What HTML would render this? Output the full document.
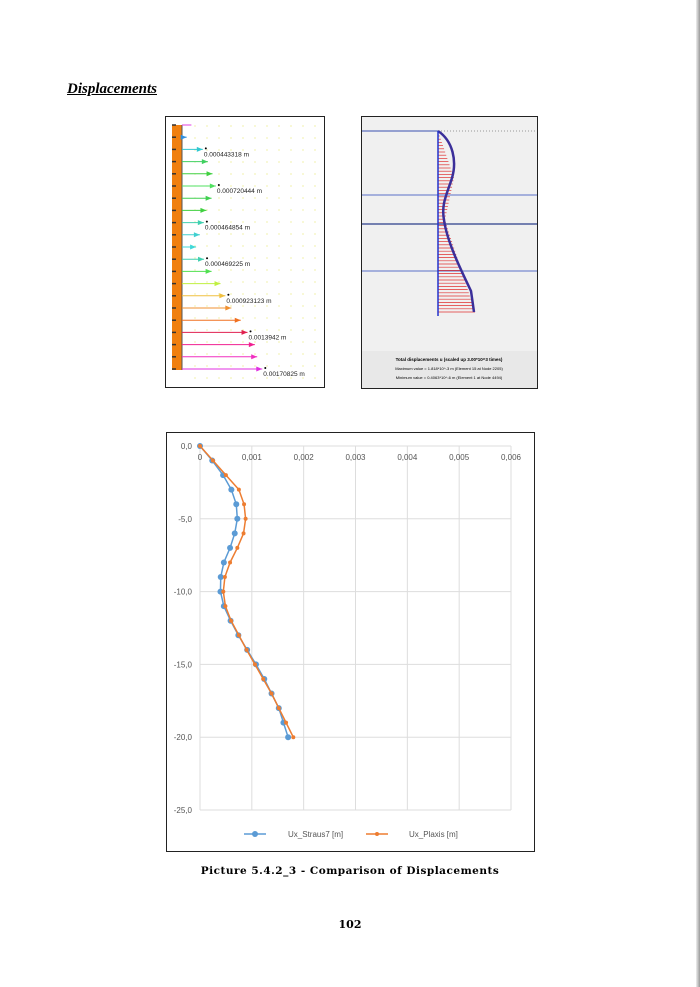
<!DOCTYPE html>
<html><head><meta charset="utf-8">
<style>
body{margin:0;width:700px;height:987px;background:#fff;position:relative;overflow:hidden;font-family:"Liberation Serif",serif}
.abs{position:absolute}
</style></head>
<body>
<div class="abs" style="left:696px;top:0;width:4px;height:987px;background:linear-gradient(90deg,#eee,#999)"></div>
<div class="abs" style="left:67px;top:81px;font-size:15px;font-weight:bold;font-style:italic;text-decoration:underline">Displacements</div>

<svg class="abs" style="left:165px;top:116px" width="160" height="272" id="img1"></svg>

<svg class="abs" style="left:361px;top:116px" width="177" height="273">
<rect x="0.5" y="0.5" width="176" height="272" fill="#f0f0f0" stroke="#222"/>
<rect x="1" y="235" width="175" height="37" fill="#e8e8e8"/>
<line x1="1" y1="15" x2="77" y2="15" stroke="#3a4fb0"/>
<line x1="77" y1="15" x2="176" y2="15" stroke="#999" stroke-dasharray="1,2"/>
<line x1="1" y1="79" x2="176" y2="79" stroke="#5a70c8"/>
<line x1="1" y1="108" x2="176" y2="108" stroke="#4a5a9a" stroke-width="1.5"/>
<line x1="1" y1="155" x2="176" y2="155" stroke="#5a70c8"/>
<g id="plaxred"></g>
<path d="M77 15 C92 25,96 45,91 62 C86 78,80 88,83 104 C86 125,98 150,110 175 L113 196" fill="none" stroke="#3b2f9a" stroke-width="2.5"/>
<line x1="77" y1="15" x2="77" y2="200" stroke="#2233cc" stroke-width="1.5"/>
<text x="88" y="245" font-family="Liberation Sans,sans-serif" font-size="4.5" font-weight="bold" text-anchor="middle">Total displacements u (scaled up 3.00*10^3 times)</text>
<text x="88" y="254" font-family="Liberation Sans,sans-serif" font-size="4" text-anchor="middle">Maximum value = 1.818*10^-3 m (Element 15 at Node 2205)</text>
<text x="88" y="263" font-family="Liberation Sans,sans-serif" font-size="4" text-anchor="middle">Minimum value = 0.4063*10^-6 m (Element 1 at Node 4494)</text>
</svg>

<svg class="abs" style="left:166px;top:432px" width="369" height="420" id="chart"></svg>

<div class="abs" style="left:0;width:700px;top:865px;text-align:center;font-family:'DejaVu Serif',serif;font-size:10.5px;font-weight:bold;letter-spacing:0.5px">Picture 5.4.2_3 - Comparison of Displacements</div>
<div class="abs" style="left:0;width:700px;top:918px;text-align:center;font-family:'DejaVu Serif',serif;font-size:11px;font-weight:bold">102</div>

<script>
const NS="http://www.w3.org/2000/svg";
function mk(p,t,a){const e=document.createElementNS(NS,t);for(const k in a)e.setAttribute(k,a[k]);p.appendChild(e);return e;}

// image 1 (straus7 arrows)
const arrowLens=[0.0002,0.0001,0.000443,0.00055,0.00065,0.00072,0.00063,0.00052,0.000465,0.00038,0.0003,0.000469,0.00063,0.00082,0.000923,0.00105,0.00125,0.0013942,0.00155,0.0016,0.00170825];
const arrowColors=["#e040e0","#3090e0","#30c8d0","#40d060","#40d040","#50e060","#40d050","#40d040","#40d0b0","#40d0d0","#40d8d8","#40d0b0","#50e050","#c0f040","#f0c040","#f09030","#f07020","#e02050","#f02090","#f030c0","#e030e0"];
const labelIdx={2:"0.000443318 m",5:"0.000720444 m",8:"0.000464854 m",11:"0.000469225 m",14:"0.000923123 m",17:"0.0013942 m",20:"0.00170825 m"};
const i1=document.getElementById('img1');
mk(i1,'rect',{x:0.5,y:0.5,width:159,height:271,fill:'#fff',stroke:'#222'});
for(let y=10;y<268;y+=12)for(let x=30;x<158;x+=12)mk(i1,'circle',{cx:x,cy:y,r:0.6,fill:'#e8e870'});
mk(i1,'rect',{x:7,y:9,width:10,height:245,fill:'#f08010'});
mk(i1,'line',{x1:17,y1:9,x2:17,y2:254,stroke:'#555'});
arrowLens.forEach((v,i)=>{
 const y=9+i*12.2, x2=17+v*47000;
 const g=mk(i1,'g',{});
 
 
 mk(g,'line',{x1:7,y1:y,x2:11,y2:y,stroke:'#333','stroke-width':1.5});
 mk(g,'line',{x1:17,y1:y,x2:x2,y2:y,stroke:arrowColors[i],'stroke-width':1});
 if(i>0)mk(g,'polygon',{points:`${x2},${y} ${x2-6},${y-2.5} ${x2-6},${y+2.5}`,fill:arrowColors[i]});
 if(labelIdx[i]){mk(g,'circle',{cx:x2+3,cy:y-1,r:1,fill:'#000'});
  const t=mk(g,'text',{x:x2+1,y:y+7,'font-family':'Liberation Sans,sans-serif','font-size':6.5,fill:'#222'});t.textContent=labelIdx[i];}
});
// plaxis red hatch
const pr=document.getElementById('plaxred');
for(let y=20;y<196;y+=3.2){
 let x=77+ (y<62? (y-15)/47*16 : y<104? 16-(y-62)/42*9 : 7+(y-104)/92*30);
 mk(pr,'line',{x1:77,y1:y,x2:x,y2:y,stroke:'#e03030','stroke-width':0.7});
}

// chart
const depth=[0,-1,-2,-3,-4,-5,-6,-7,-8,-9,-10,-11,-12,-13,-14,-15,-16,-17,-18,-19,-20];
const uxStraus7=[0,0.000236,0.000446,0.000605,0.0007,0.00072,0.00067,0.00058,0.00046,0.0004,0.000395,0.00046,0.00059,0.00074,0.00091,0.00108,0.00124,0.00138,0.00152,0.00161,0.0017];
const uxPlaxis=[0,0.00025,0.0005,0.00075,0.00085,0.00088,0.00084,0.00072,0.00058,0.00048,0.00045,0.00049,0.0006,0.00075,0.0009,0.00106,0.00122,0.00138,0.00152,0.00166,0.0018];
const xTicks=[0,0.001,0.002,0.003,0.004,0.005,0.006];
const xTickLabels=["0","0,001","0,002","0,003","0,004","0,005","0,006"];
const yTicks=[0,-5,-10,-15,-20,-25];
const yTickLabels=["0,0","-5,0","-10,0","-15,0","-20,0","-25,0"];
const ch=document.getElementById('chart');
const X=v=>34+v/0.006*311, Y=v=>14-v/25*364;
mk(ch,'rect',{x:0.5,y:0.5,width:368,height:419,fill:'#fff',stroke:'#222'});
const F='Liberation Sans,sans-serif';
xTicks.forEach((v,i)=>{
 const l=mk(ch,'line',{x1:X(v),y1:Y(0),x2:X(v),y2:Y(-25),stroke:'#ddd'});
 
 const t=mk(ch,'text',{x:X(v),y:28,'font-family':F,'font-size':8,fill:'#555','text-anchor':'middle'});
 
 t.textContent=xTickLabels[i];
});
yTicks.forEach((v,i)=>{
 const l=mk(ch,'line',{x1:X(0),y1:Y(v),x2:X(0.006),y2:Y(v),stroke:'#ddd'});
 
 const t=mk(ch,'text',{x:26,y:Y(v)+3,'font-family':F,'font-size':8,fill:'#555','text-anchor':'end'});
 
 t.textContent=yTickLabels[i];
});
function series(vals,col,r,name){
 const p=mk(ch,'polyline',{points:vals.map((v,i)=>X(v)+','+Y(depth[i])).join(' '),fill:'none',stroke:col,'stroke-width':1.5});
 
 vals.forEach((v,i)=>{const c=mk(ch,'circle',{cx:X(v),cy:Y(depth[i]),r:r,fill:col});
  });
}
series(uxStraus7,'#5b9bd5',3,'straus7');
series(uxPlaxis,'#ed7d31',2,'plaxis');
// legend
const lg=mk(ch,'g',{});

mk(lg,'line',{x1:78,y1:402,x2:100,y2:402,stroke:'#5b9bd5','stroke-width':1.5});
mk(lg,'circle',{cx:89,cy:402,r:3,fill:'#5b9bd5'});
let t=mk(lg,'text',{x:122,y:405,'font-family':F,'font-size':8,fill:'#555'});t.textContent='Ux_Straus7 [m]';
mk(lg,'line',{x1:200,y1:402,x2:222,y2:402,stroke:'#ed7d31','stroke-width':1.5});
mk(lg,'circle',{cx:211,cy:402,r:2,fill:'#ed7d31'});
t=mk(lg,'text',{x:243,y:405,'font-family':F,'font-size':8,fill:'#555'});t.textContent='Ux_Plaxis [m]';
</script>
</body></html>
